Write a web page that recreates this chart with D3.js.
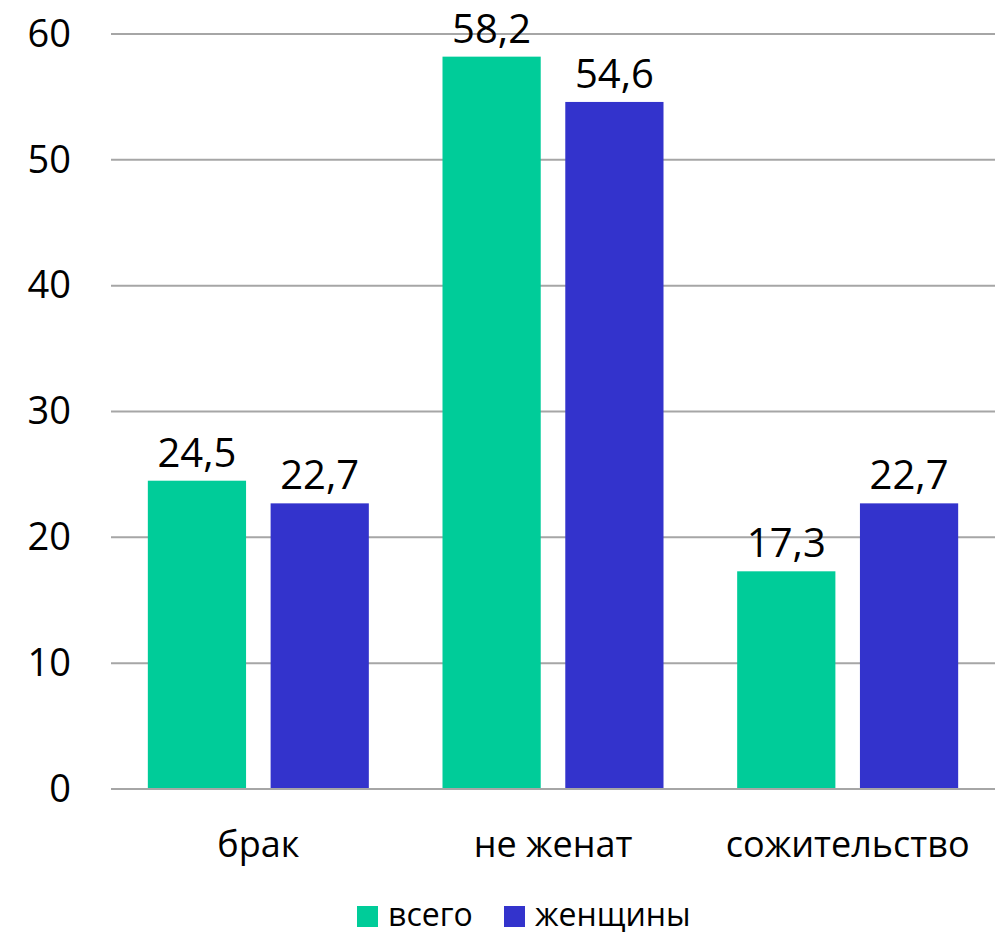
<!DOCTYPE html>
<html>
<head>
<meta charset="utf-8">
<script src="https://cdn.jsdelivr.net/npm/d3@7"></script>
<style>
  body { margin: 0; background: #fff; }
  text { font-family: "Open Sans", sans-serif; fill: #000; }
</style>
</head>
<body>
<script>
var categories = ['брак', 'не женат', 'сожительство'];
var seriesNames = ['всего', 'женщины'];
var totalValues = [24.5, 58.2, 17.3];
var womenValues = [22.7, 54.6, 22.7];
var yTicks = [0, 10, 20, 30, 40, 50, 60];
var colors = ['#00CC99', '#3333CC'];

var w = 1005;
var h = 934;

var svg = d3.select('body')
  .append('svg')
  .attr('width', w)
  .attr('height', h);

var y = d3.scaleLinear()
  .domain([0, 60])
  .range([789, 34]);

var x0 = d3.scaleBand()
  .domain(categories)
  .range([111, 995]);

var x1 = d3.scaleBand()
  .domain(seriesNames)
  .range([0, x0.bandwidth()])
  .paddingInner(0.2)
  .paddingOuter(0.3);

var color = d3.scaleOrdinal()
  .domain(seriesNames)
  .range(colors);

// gridlines
svg.append('g')
  .selectAll('line')
  .data(yTicks)
  .enter()
  .append('line')
  .attr('x1', 111)
  .attr('x2', 995)
  .attr('y1', function (d) { return y(d); })
  .attr('y2', function (d) { return y(d); })
  .attr('stroke', '#a6a6a6')
  .attr('stroke-width', 2);

// y axis labels
var yAxis = d3.axisLeft(y)
  .tickValues(yTicks)
  .tickSize(0)
  .tickPadding(0)
  .tickFormat(d3.format('d'));

svg.append('g')
  .attr('transform', 'translate(71,0)')
  .call(yAxis)
  .call(function (g) { g.select('.domain').remove(); })
  .selectAll('text')
  .style('font-size', '38px')
  .style('font-family', '"Open Sans", sans-serif')
  .attr('fill', '#000');

var rows = categories.map(function (c, i) {
  return {
    category: c,
    values: [
      { key: seriesNames[0], value: totalValues[i] },
      { key: seriesNames[1], value: womenValues[i] }
    ]
  };
});

var groups = svg.selectAll('.group')
  .data(rows)
  .enter()
  .append('g')
  .attr('class', 'group')
  .attr('transform', function (d) { return 'translate(' + x0(d.category) + ',0)'; });

groups.selectAll('rect')
  .data(function (d) { return d.values; })
  .enter()
  .append('rect')
  .attr('x', function (d) { return x1(d.key); })
  .attr('y', function (d) { return y(d.value); })
  .attr('width', x1.bandwidth())
  .attr('height', function (d) { return y(0) - y(d.value); })
  .attr('fill', function (d) { return color(d.key); });

// baseline drawn over bars
svg.append('line')
  .attr('x1', 111)
  .attr('x2', 995)
  .attr('y1', y(0))
  .attr('y2', y(0))
  .attr('stroke', '#a6a6a6')
  .attr('stroke-width', 2);

groups.selectAll('.val')
  .data(function (d) { return d.values; })
  .enter()
  .append('text')
  .attr('class', 'val')
  .attr('x', function (d) { return x1(d.key) + x1.bandwidth() / 2; })
  .attr('y', function (d) { return y(d.value) - 14; })
  .attr('text-anchor', 'middle')
  .style('font-size', '40px')
  .text(function (d) { return String(d.value.toFixed(1)).replace('.', ','); });

// category labels
svg.selectAll('.cat')
  .data(categories)
  .enter()
  .append('text')
  .attr('class', 'cat')
  .attr('x', function (d) { return x0(d) + x0.bandwidth() / 2; })
  .attr('y', 857)
  .attr('text-anchor', 'middle')
  .style('font-size', '36px')
  .text(function (d) { return d; });

// legend
var legendX = [357, 504];
var legend = svg.selectAll('.legend')
  .data(seriesNames)
  .enter()
  .append('g')
  .attr('class', 'legend')
  .attr('transform', function (d, i) { return 'translate(' + legendX[i] + ',906)'; });

legend.append('rect')
  .attr('width', 21)
  .attr('height', 21)
  .attr('fill', function (d) { return color(d); });

legend.append('text')
  .attr('x', 31)
  .attr('y', 20)
  .style('font-size', '32px')
  .text(function (d) { return d; });
</script>
</body>
</html>
